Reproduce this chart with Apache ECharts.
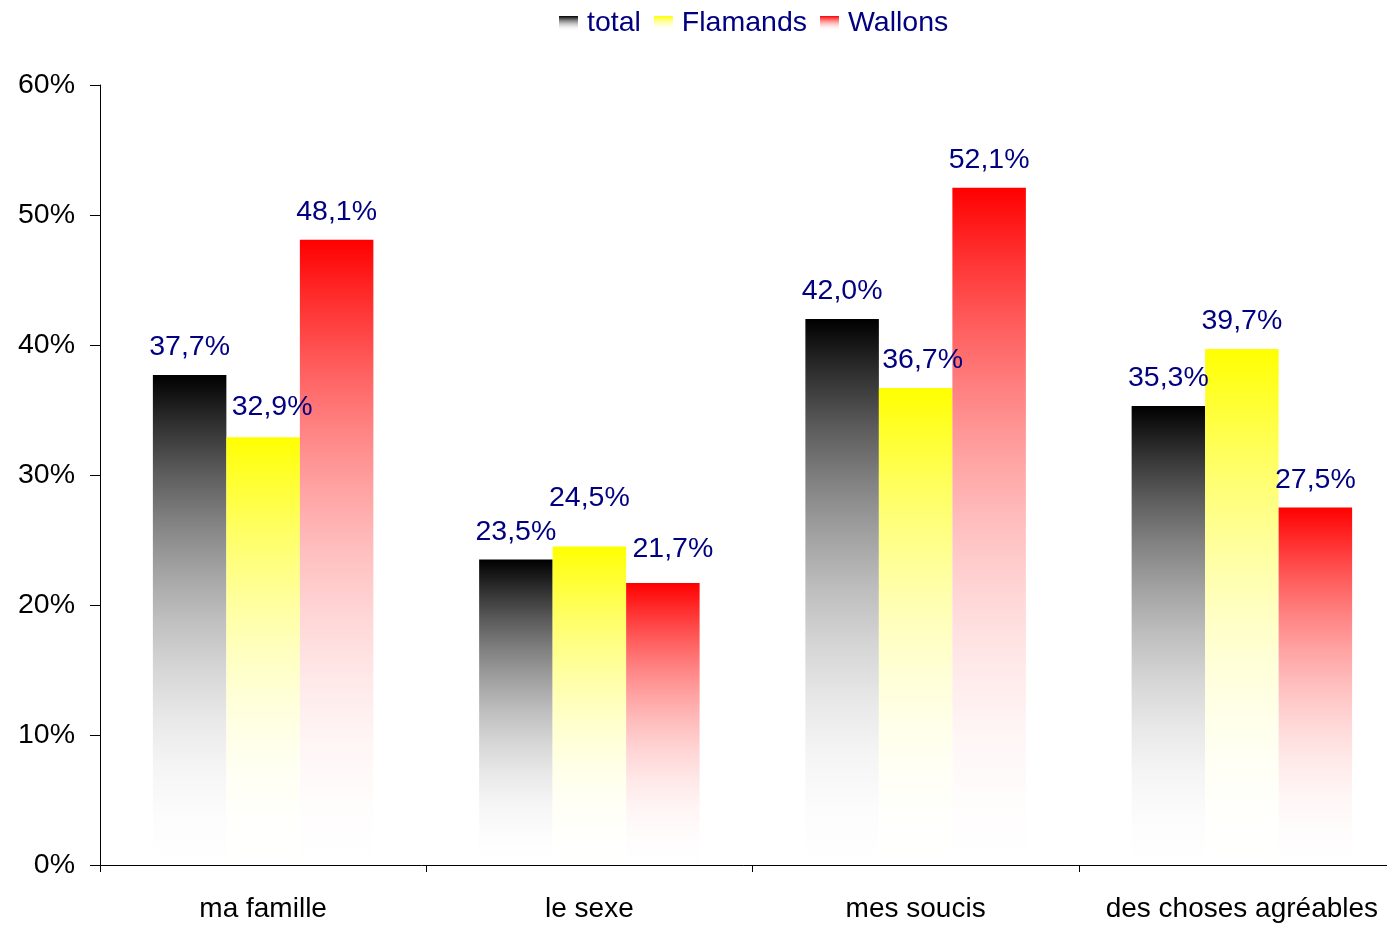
<!DOCTYPE html>
<html><head><meta charset="utf-8">
<script src="https://cdn.jsdelivr.net/npm/echarts@6/dist/echarts.min.js"></script>
<style>html,body{margin:0;padding:0;background:#fff}#c{width:1387px;height:926px}</style>
</head><body><div id="c"></div>
<script>
const categories = ['ma famille', 'le sexe', 'mes soucis', 'des choses agréables'];
const seriesNames = ['total', 'Flamands', 'Wallons'];
const totalValues = [37.7, 23.5, 42.0, 35.3];
const flamandsValues = [32.9, 24.5, 36.7, 39.7];
const wallonsValues = [48.1, 21.7, 52.1, 27.5];
const yTicks = [0, 10, 20, 30, 40, 50, 60];

const topColors = [[0, 0, 0], [255, 255, 0], [255, 0, 0]];
const allValues = [totalValues, flamandsValues, wallonsValues];
// nudges of some value labels, [dx, dy] (style only)
const labelShift = [
  [[0, 0], [0, 0], [0, 0], [0, 0]],
  [[9, -3], [0, -21], [7, 0], [0, 0]],
  [[0, 0], [10, -6], [0, 0], [0, 0]]
];
const FONT = '"Liberation Sans", Arial, sans-serif';

function grad(c) {
  const stops = [];
  for (let k = 0; k <= 10; k++) {
    const t = k / 10;
    const a = Math.pow(1 - t, 2);
    const mix = c.map(v => Math.round(v * a + 255 * (1 - a)));
    stops.push({offset: t, color: 'rgb(' + mix.join(',') + ')'});
  }
  return new echarts.graphic.LinearGradient(0, 0, 0, 1, stops);
}

const chart = echarts.init(document.getElementById('c'), null, {renderer: 'canvas'});
chart.setOption({
  animation: false,
  backgroundColor: '#ffffff',
  legend: {
    top: 4, left: 554,
    itemWidth: 19, itemHeight: 15, itemGap: 13,
    textStyle: {color: '#000080', fontSize: 28.5, fontFamily: FONT, padding: [0, 0, 0, 4]},
    data: seriesNames.map((n, i) => ({name: n, icon: 'rect', itemStyle: {color: grad(topColors[i])}}))
  },
  grid: {left: 100, right: -18, top: 85, bottom: 61, containLabel: false, outerBoundsMode: 'none'},
  xAxis: {
    type: 'category', data: categories,
    axisLine: {lineStyle: {color: '#000', width: 1}},
    axisTick: {show: true, length: 7, interval: 0, lineStyle: {color: '#000'}},
    axisLabel: {color: '#000', fontSize: 28, fontFamily: FONT, margin: 30, interval: 0}
  },
  yAxis: {
    type: 'value', min: 0, max: 60, interval: 10,
    axisLine: {show: true, lineStyle: {color: '#000', width: 1}},
    axisTick: {show: true, length: 10, lineStyle: {color: '#000'}},
    splitLine: {show: false},
    axisLabel: {color: '#000', fontSize: 28.5, fontFamily: FONT, margin: 25, formatter: '{value}%'}
  },
  series: seriesNames.map((n, i) => ({
    name: n, type: 'bar',
    data: allValues[i].map((v, j) => ({value: v, label: {offset: labelShift[i][j]}})),
    barWidth: 73.5, barGap: '0%',
    itemStyle: {color: grad(topColors[i])},
    label: {
      show: true, position: 'top', distance: 13,
      color: '#000080', fontSize: 28.5, fontFamily: FONT,
      formatter: p => p.value.toFixed(1).replace('.', ',') + '%'
    }
  }))
});
</script></body></html>
